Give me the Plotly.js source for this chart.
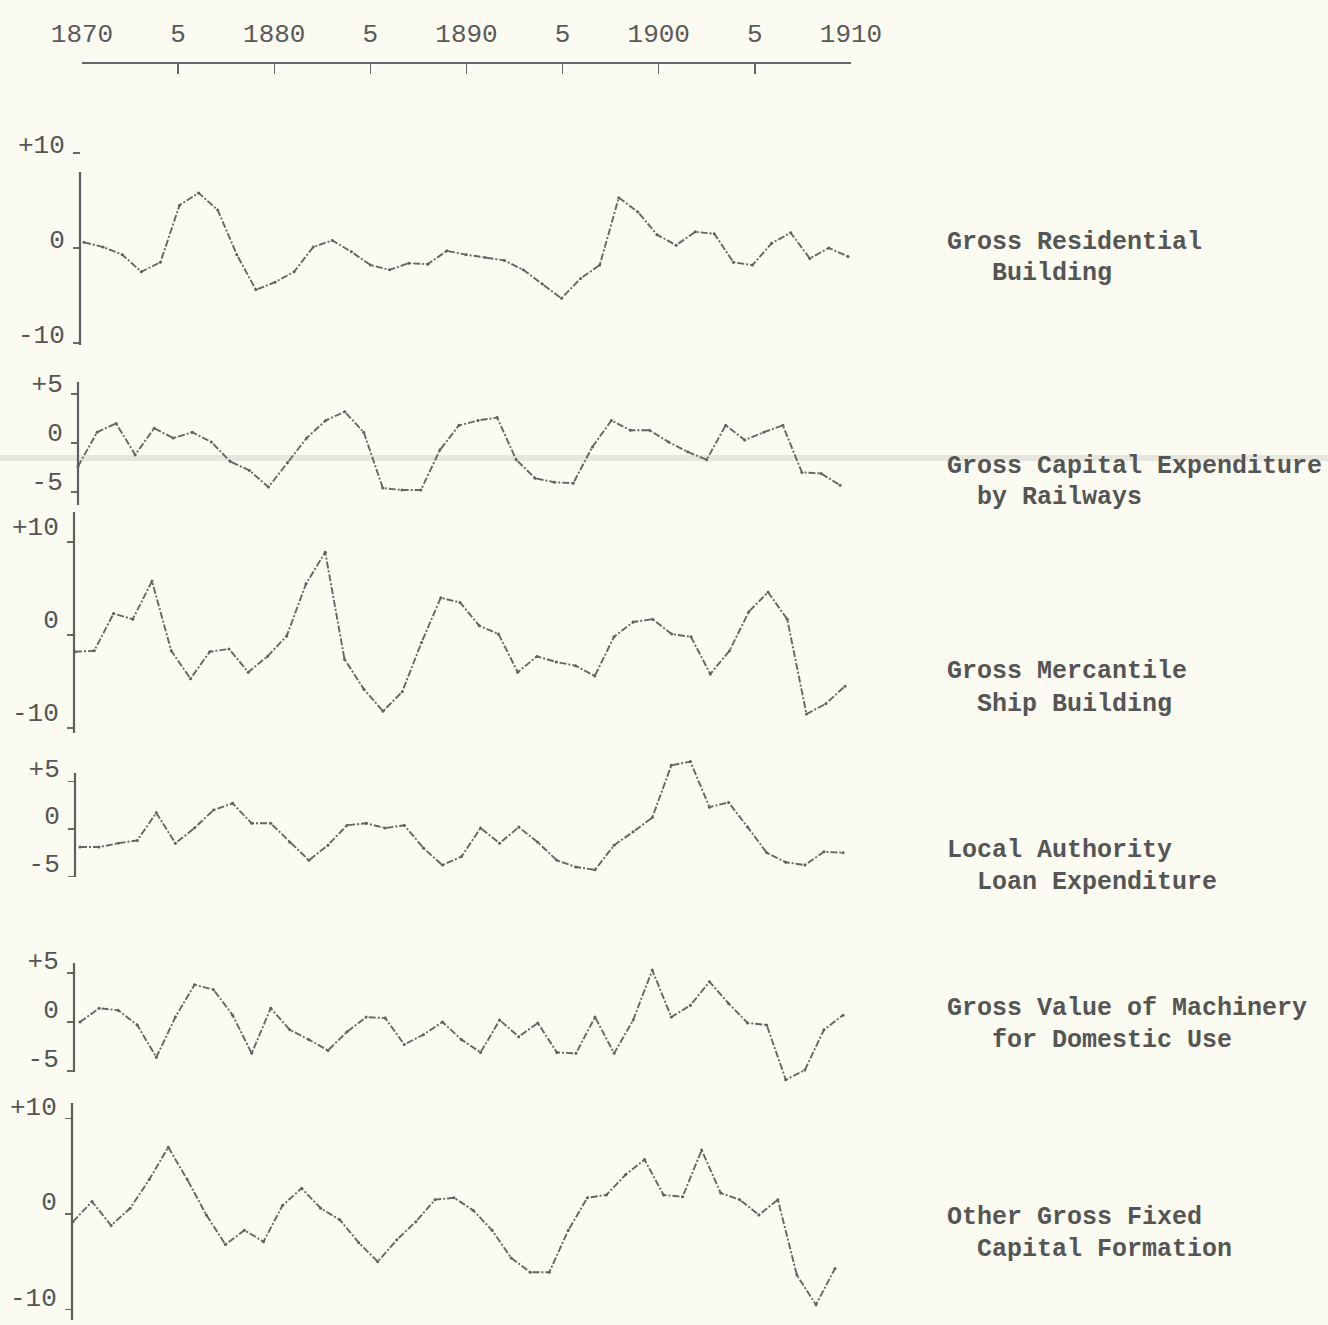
<!DOCTYPE html>
<html><head><meta charset="utf-8">
<script src="https://cdn.plot.ly/plotly-3.0.1.min.js"></script>
<style>html,body{margin:0;padding:0;background:#fbfbf1;}</style>
</head><body><div id="chart" style="width:1328px;height:1325px;"></div>
<script>
// ---- data (annual deviations, 1870-1910) ----
const years = [1870,1871,1872,1873,1874,1875,1876,1877,1878,1879,1880,1881,1882,1883,1884,1885,1886,1887,1888,1889,1890,1891,1892,1893,1894,1895,1896,1897,1898,1899,1900,1901,1902,1903,1904,1905,1906,1907,1908,1909,1910];

const residential = [0.6,0.1,-0.7,-2.5,-1.5,4.5,5.8,4.0,-0.7,-4.4,-3.6,-2.5,0.1,0.8,-0.4,-1.8,-2.3,-1.6,-1.7,-0.3,-0.7,-1.0,-1.3,-2.3,-3.8,-5.3,-3.2,-1.8,5.3,3.8,1.4,0.3,1.7,1.5,-1.5,-1.8,0.5,1.6,-1.1,0.0,-0.9];

const railways = [-2.4,1.1,2.0,-1.2,1.5,0.5,1.1,0.1,-1.9,-2.8,-4.5,-2.0,0.5,2.3,3.2,1.1,-4.6,-4.8,-4.8,-0.7,1.8,2.3,2.6,-1.7,-3.6,-4.0,-4.1,-0.4,2.3,1.3,1.3,0.1,-0.9,-1.7,1.8,0.3,1.1,1.8,-3.0,-3.1,-4.3];

const shipbuilding = [-1.8,-1.7,2.3,1.7,5.8,-1.7,-4.7,-1.8,-1.5,-4.0,-2.3,-0.1,5.5,8.9,-2.6,-5.8,-8.2,-6.1,-0.8,4.0,3.5,1.0,0.1,-4.0,-2.3,-2.9,-3.3,-4.4,-0.2,1.4,1.7,0.1,-0.2,-4.2,-1.7,2.5,4.6,1.7,-8.5,-7.4,-5.5];

const localAuthority = [-1.9,-1.9,-1.5,-1.2,1.7,-1.5,0.1,2.0,2.7,0.6,0.6,-1.4,-3.3,-1.7,0.4,0.6,0.1,0.4,-2.0,-3.8,-2.9,0.1,-1.5,0.2,-1.4,-3.3,-4.0,-4.3,-1.7,-0.3,1.2,6.7,7.1,2.3,2.8,0.2,-2.5,-3.5,-3.8,-2.4,-2.5];

const machinery = [0.0,1.4,1.2,-0.3,-3.6,0.5,3.8,3.3,0.7,-3.2,1.4,-0.8,-1.8,-2.9,-1.0,0.5,0.4,-2.3,-1.3,0.0,-1.8,-3.1,0.2,-1.5,-0.1,-3.1,-3.2,0.5,-3.2,0.2,5.3,0.5,1.7,4.1,1.9,-0.1,-0.3,-5.9,-4.9,-0.8,0.7];

const otherGFCF = [-0.8,1.3,-1.2,0.6,3.6,7.0,3.6,-0.1,-3.2,-1.7,-2.9,0.9,2.7,0.6,-0.6,-3.0,-5.0,-2.7,-0.8,1.5,1.7,0.4,-1.7,-4.6,-6.1,-6.1,-1.7,1.7,2.0,4.1,5.7,2.0,1.8,6.7,2.2,1.5,-0.1,1.5,-6.4,-9.5,-5.7];

const xTickVals = [1870,1875,1880,1885,1890,1895,1900,1905,1910];
const xTickText = ["1870","5","1880","5","1890","5","1900","5","1910"];

const seriesLabels = [
  ["Gross Residential", "\u00a0\u00a0\u00a0Building"],
  ["Gross Capital Expenditure", "\u00a0\u00a0by Railways"],
  ["Gross Mercantile", "\u00a0\u00a0Ship Building"],
  ["Local Authority", "\u00a0\u00a0Loan Expenditure"],
  ["Gross Value of Machinery", "\u00a0\u00a0\u00a0for Domestic Use"],
  ["Other Gross Fixed", "\u00a0\u00a0Capital Formation"]
];
const yTickVals = [[-10,0,10],[-5,0,5],[-10,0,10],[-5,0,5],[-5,0,5],[-10,0,10]];
const yTickText = [["-10","0","+10"],["-5","0","+5"],["-10","0","+10"],["-5","0","+5"],["-5","0","+5"],["-10","0","+10"]];
const allSeries = [residential, railways, shipbuilding, localAuthority, machinery, otherGFCF];

// ---- layout geometry (pixels) ----
const W = 1328, H = 1325;
const panels = [
  {zero:248, ppu:9.5,  lineTop:172, lineBot:345, plotTop:140, plotBot:352, axisX:80, x0:84, x1:848, shift:-9,  labelY:242},
  {zero:443, ppu:9.8,  lineTop:382, lineBot:505, plotTop:372, plotBot:512, axisX:78, x0:78, x1:840, shift:-11, labelY:466},
  {zero:635, ppu:9.3,  lineTop:512, lineBot:733, plotTop:505, plotBot:740, axisX:74, x0:75, x1:845, shift:-16, labelY:672},
  {zero:829, ppu:9.5,  lineTop:773, lineBot:877, plotTop:752, plotBot:885, axisX:75, x0:80, x1:843, shift:-14, labelY:850},
  {zero:1022, ppu:9.8, lineTop:963, lineBot:1072, plotTop:955, plotBot:1090, axisX:74, x0:80, x1:843, shift:-13, labelY:1008},
  {zero:1214, ppu:9.55,lineTop:1103, lineBot:1320, plotTop:1095, plotBot:1322, axisX:72, x0:73, x1:835, shift:-13, labelY:1217}
];
const monoFont = 'Liberation Mono, DejaVu Sans Mono, monospace';

const traces = [];
const layout = {
  width: W, height: H,
  margin: {l:0, r:0, t:0, b:0},
  paper_bgcolor: '#fbfbf1',
  plot_bgcolor: 'rgba(0,0,0,0)',
  showlegend: false,
  font: {family: monoFont, color: '#555'},
  annotations: [],
  shapes: [
    {type:'rect', xref:'paper', yref:'paper', x0:0, x1:1, y0:1-461/H, y1:1-455/H,
     line:{width:0}, fillcolor:'rgba(205,205,200,0.45)', layer:'below'}
  ]
};

// top time axis (carried by an invisible copy of the first series so the axis is drawn)
layout.xaxis = {
  domain: [82/W, 851/W],
  range: [1870, 1910],
  side: 'top', anchor: 'free', position: 1 - 62/H,
  showgrid: false, zeroline: false,
  showline: true, linecolor: '#666', linewidth: 1.6,
  ticks: 'inside', ticklen: 10, tickwidth: 1.3, tickcolor: '#666',
  tickvals: xTickVals, ticktext: xTickText,
  tickfont: {family: monoFont, size: 26, color: '#5a5a5a'},
  ticklabelstandoff: 10
};
traces.push({type:'scatter', mode:'lines', x: years, y: residential,
  xaxis:'x', yaxis:'y', opacity:0, hoverinfo:'skip', showlegend:false});

panels.forEach((p, i) => {
  const n = i + 2;
  const xName = 'xaxis' + n, xRef = 'x' + n;
  const yName = i === 0 ? 'yaxis' : 'yaxis' + (i+1);
  const yRef = i === 0 ? 'y' : 'y' + (i+1);
  const ppy = (p.x1 - p.x0) / 40;
  layout[xName] = {
    domain: [(p.x0 - ppy)/W, (p.x1 + ppy)/W],
    range: [1869, 1911],
    anchor: yRef, visible: false, showgrid: false, zeroline: false
  };
  layout[yName] = {
    domain: [1 - p.plotBot/H, 1 - p.plotTop/H],
    range: [-(p.plotBot - p.zero)/p.ppu, (p.zero - p.plotTop)/p.ppu],
    anchor: 'free', position: p.axisX / W,
    showgrid: false, zeroline: false, showline: false,
    ticks: 'outside', ticklen: 7, tickwidth: 1.3, tickcolor: '#6a6a6a',
    tickvals: yTickVals[i], ticktext: yTickText[i],
    tickfont: {family: monoFont, size: 26, color: '#555'},
    ticklabelshift: p.shift,
    ticklabelstandoff: 3
  };
  layout.shapes.push({type:'line', xref:'paper', yref:'paper',
    x0:p.axisX/W, x1:p.axisX/W, y0:1-p.lineBot/H, y1:1-p.lineTop/H,
    line:{color:'#5f5f5f', width:2.2}});
  traces.push({
    type: 'scatter', mode: 'lines+markers',
    x: years, y: allSeries[i],
    xaxis: xRef, yaxis: yRef,
    line: {color: '#666', width: 1.9, dash: '7px,2px,2px,2px'},
    marker: {size: 3, color: '#606060'},
    hoverinfo: 'skip'
  });
  seriesLabels[i].forEach((txt, k) => {
    layout.annotations.push({
      xref: 'paper', yref: 'paper',
      x: 945/W, y: 1 - (p.labelY + 32*k)/H,
      xanchor: 'left', yanchor: 'middle',
      text: '<b>' + txt + '</b>', showarrow: false,
      font: {family: monoFont, size: 25, color: '#555'}
    });
  });
});

Plotly.newPlot('chart', traces, layout, {staticPlot: true, displayModeBar: false});
</script>
</body></html>
